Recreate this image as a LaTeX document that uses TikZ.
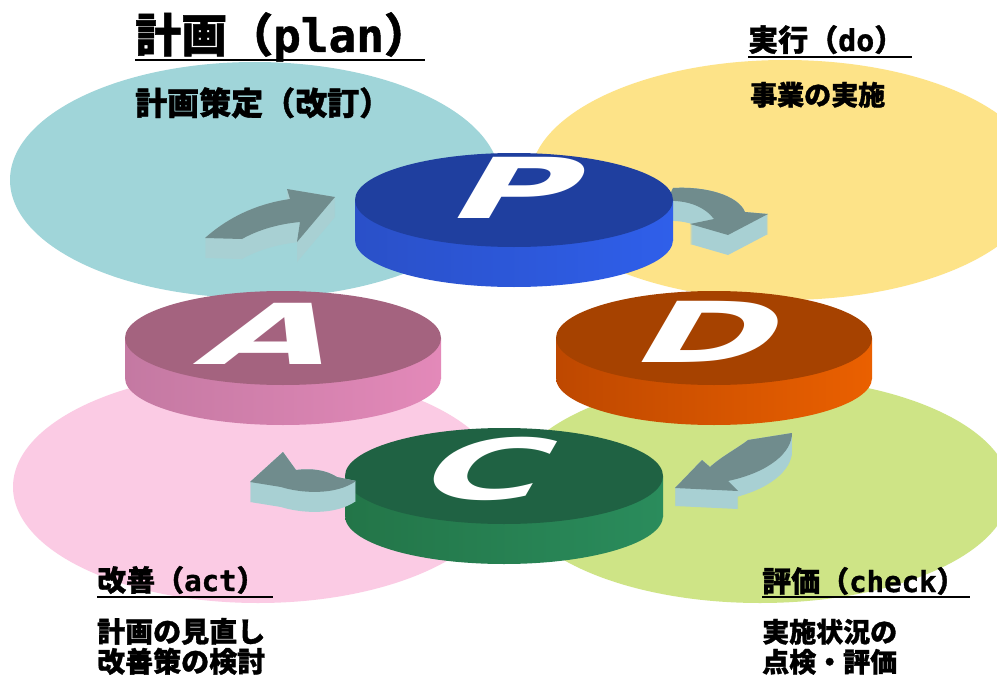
\documentclass[tikz,border=0pt]{standalone}
\usepackage{fontspec}
\newfontfamily\cjk{Noto Sans CJK JP}[BoldFeatures={FakeBold=1.2}]
\newfontfamily\asc{DejaVu Sans Mono}[BoldFeatures={FakeBold=1}]
\newfontfamily\letterfont{DejaVu Sans}
\definecolor{tealbg}{HTML}{A0D5D9}
\definecolor{yelbg}{HTML}{FDE388}
\definecolor{pinkbg}{HTML}{FBCBE4}
\definecolor{grnbg}{HTML}{CEE486}
\definecolor{Ptop}{HTML}{1F3F9F}
\definecolor{Pside1}{HTML}{2A50C8}
\definecolor{Pside2}{HTML}{2F5FEA}
\definecolor{Atop}{HTML}{A4637F}
\definecolor{Aside1}{HTML}{C479A2}
\definecolor{Aside2}{HTML}{E389B9}
\definecolor{Dtop}{HTML}{A64200}
\definecolor{Dside1}{HTML}{BE4800}
\definecolor{Dside2}{HTML}{EA6000}
\definecolor{Ctop}{HTML}{1F6243}
\definecolor{Cside1}{HTML}{237548}
\definecolor{Cside2}{HTML}{2A8C5C}
\definecolor{arrtop}{HTML}{708C8D}
\definecolor{arrside}{HTML}{A8D0D3}
\newcommand\pdcadisc[8]{%
  \shade[left color=#7,right color=#8] (#1-#3,#2) rectangle (#1+#3,#2+#5);
  \shade[left color=#7,right color=#8] (#1,#2+#5) ellipse [x radius=#3, y radius=#4];
  \fill[#6] (#1,#2) ellipse [x radius=#3, y radius=#4];}
\newcommand\arrowone{(205,238) .. controls (232,214) and (262,203) .. (290,199) -- (287,189) -- (335,197) -- (297,242) -- (300,222) .. controls (278,224) and (258,230) .. (242,239) -- cycle}
\newcommand\arrowtwo{(673,188) .. controls (705,186) and (738,195) .. (745,212) -- (768,214) -- (728,235) -- (690,224) -- (714,219) .. controls (705,207) and (688,200) .. (667,201) -- cycle}
\newcommand\arrowthree{(748,440) -- (792,433) .. controls (792,452) and (770,472) .. (728,481) -- (738,491) -- (675,488) -- (702,460) -- (710,467) .. controls (722,456) and (738,448) .. (748,440) -- cycle}
\newcommand\arrowfour{(250,482) -- (283,452) -- (296,470) .. controls (312,468) and (326,470) .. (337,477) -- (356,481) .. controls (335,496) and (300,493) .. (281,487) -- cycle}
\newcommand\extrude[2]{%
  \foreach \d in {0,1,...,#2} {\fill[arrside, shift={(0,\d)}] #1;}
  \fill[arrtop] #1;}
\tikzset{
  letter/.style={font=\letterfont\bfseries\fontsize{84}{84}\selectfont, text=white, inner sep=0pt, anchor=base, xslant=0.58, xscale=2.0},
  jp/.style={anchor=base west, inner sep=0pt, text=black},
  uline/.style={line width=2.5pt, black}
}
\begin{document}
\begin{tikzpicture}[x=1pt,y=-1pt]
\useasboundingbox (0,0) rectangle (997,677);
\clip (0,0) rectangle (997,677);
\fill[white] (0,0) rectangle (997,677);
% background ellipses
\fill[tealbg] (255,180) ellipse [x radius=245, y radius=118];
\fill[yelbg] (785,180) ellipse [x radius=255, y radius=120];
\fill[pinkbg] (258,487) ellipse [x radius=245, y radius=116];
\fill[grnbg] (760,490) ellipse [x radius=250, y radius=113];
% arrows behind discs
\extrude{\arrowone}{20}
\extrude{\arrowtwo}{20}
\extrude{\arrowthree}{18}
% discs
\pdcadisc{514}{200}{159}{47}{40}{Ptop}{Pside1}{Pside2}
\pdcadisc{283}{338}{158}{47}{40}{Atop}{Aside1}{Aside2}
\pdcadisc{714}{338}{158}{47}{40}{Dtop}{Dside1}{Dside2}
\pdcadisc{504}{476}{159}{48}{40}{Ctop}{Cside1}{Cside2}
\node[letter] (P) at (504,218) {P};
\node[letter] (A) at (258,364) {A};
\node[letter] (D) at (696,362) {D};
\node[letter] (C) at (473,499) {C};
% arrow in front of C
\extrude{\arrowfour}{20}
% texts
\node[jp, font=\cjk\bfseries\fontsize{46}{50}\selectfont] (tplan) at (135,52) {計画（{\asc\bfseries plan}）};
\draw[uline] (135,60) -- (425,60);
\node[jp, font=\cjk\bfseries\fontsize{32}{36}\selectfont] (dplan) at (135,115) {計画策定（改訂）};
\node[jp, font=\cjk\bfseries\fontsize{30}{34}\selectfont] (tdo) at (748,51) {実行（{\asc\bfseries do}）};
\draw[uline] (748,57) -- (912,57);
\node[jp, font=\cjk\bfseries\fontsize{27}{30}\selectfont] (ddo) at (750,105) {事業の実施};
\node[jp, font=\cjk\bfseries\fontsize{29}{32}\selectfont] (tact) at (97,591) {改善（{\asc\bfseries act}）};
\draw[uline] (97,597) -- (273,597);
\node[jp, font=\cjk\bfseries\fontsize{28}{30}\selectfont] (dact1) at (97,642) {計画の見直し};
\node[jp, font=\cjk\bfseries\fontsize{28}{30}\selectfont] (dact2) at (97,672) {改善策の検討};
\node[jp, font=\cjk\bfseries\fontsize{29}{32}\selectfont] (tcheck) at (762,592) {評価（{\asc\bfseries check}）};
\draw[uline] (762,597) -- (970,597);
\node[jp, font=\cjk\bfseries\fontsize{27}{30}\selectfont] (dcheck1) at (762,642) {実施状況の};
\node[jp, font=\cjk\bfseries\fontsize{27}{30}\selectfont] (dcheck2) at (762,672) {点検・評価};
\end{tikzpicture}
\end{document}
